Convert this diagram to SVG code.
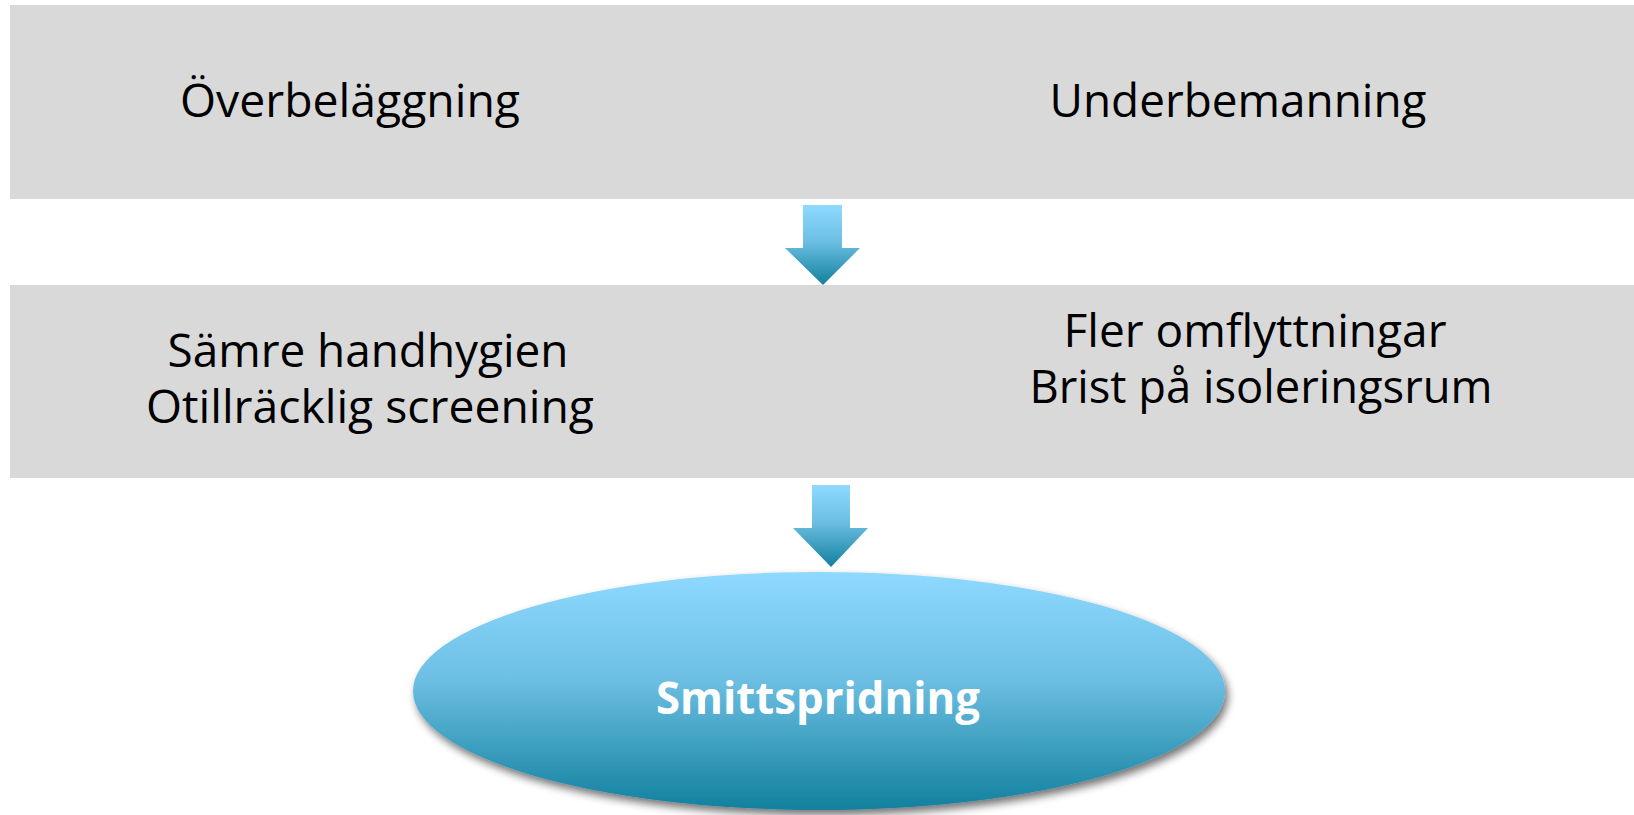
<svg xmlns="http://www.w3.org/2000/svg" width="1634" height="815" viewBox="0 0 1634 815">
<defs>
<linearGradient id="blue" x1="0" y1="0" x2="0" y2="1">
<stop offset="0" stop-color="#8fd9ff"/>
<stop offset="0.45" stop-color="#6cbfe3"/>
<stop offset="1" stop-color="#12809e"/>
</linearGradient>
<filter id="sh" x="-10%" y="-10%" width="120%" height="130%">
<feGaussianBlur in="SourceAlpha" stdDeviation="4"/>
<feOffset dx="3" dy="5" result="b"/>
<feComponentTransfer><feFuncA type="linear" slope="0.55"/></feComponentTransfer>
<feMerge><feMergeNode/><feMergeNode in="SourceGraphic"/></feMerge>
</filter>
</defs>
<style>
.box{fill:#d9d9d9}
.t{font-family:"Open Sans","Noto Sans","Liberation Sans",sans-serif;font-size:46px;fill:#000;text-anchor:middle}
.w{font-family:"Open Sans","Noto Sans","Liberation Sans",sans-serif;font-size:44px;font-weight:bold;fill:#fff;text-anchor:middle}
.arr{fill:url(#blue)}
</style>
<rect width="1634" height="815" fill="#fff"/>
<g id="causes">
<rect class="box" x="10" y="5" width="1624" height="194"/>
<text class="t" x="350" y="117" textLength="340" lengthAdjust="spacingAndGlyphs">Överbeläggning</text>
<text class="t" x="1238" y="117" textLength="377" lengthAdjust="spacingAndGlyphs">Underbemanning</text>
</g>
<g id="effects">
<rect class="box" x="10" y="285" width="1624" height="193"/>
<text class="t" x="368" y="367" textLength="401" lengthAdjust="spacingAndGlyphs">Sämre handhygien</text>
<text class="t" x="370" y="423" textLength="448" lengthAdjust="spacingAndGlyphs">Otillräcklig screening</text>
<text class="t" x="1255" y="347" textLength="383" lengthAdjust="spacingAndGlyphs">Fler omflyttningar</text>
<text class="t" x="1261" y="403" textLength="463" lengthAdjust="spacingAndGlyphs">Brist på isoleringsrum</text>
</g>
<g id="connectors">
<polygon class="arr" points="803,205 842,205 842,248 860,248 823,285 785,248 803,248"/>
<polygon class="arr" points="812,485 850,485 850,528 868,528 831,567 793,528 812,528"/>
</g>
<g id="result">
<ellipse cx="819" cy="691" rx="406" ry="119" fill="url(#blue)" filter="url(#sh)"/>
<text class="w" x="818" y="714" textLength="324" lengthAdjust="spacingAndGlyphs">Smittspridning</text>
</g>
</svg>
